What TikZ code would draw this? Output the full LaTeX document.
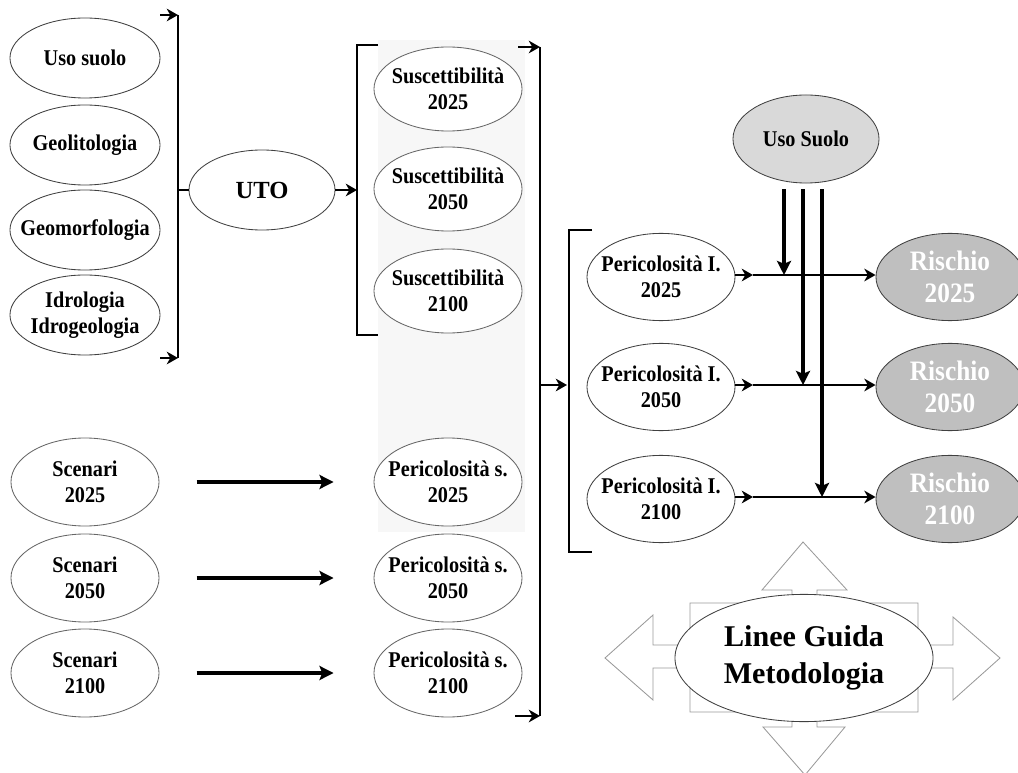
\documentclass[tikz,border=0pt]{standalone}
\usepackage{fontspec}
\setmainfont{Liberation Serif}
\newfontfamily\narrowserif[FakeStretch=0.9]{Liberation Serif}
\usetikzlibrary{shapes.geometric,arrows.meta}

\tikzset{
  oval/.style={ellipse, draw=black!75, line width=0.6pt, fill=white, minimum width=3.7cm, minimum height=2.1cm, inner ysep=0pt, inner xsep=-0.3cm, align=center, font=\narrowserif\bfseries\fontsize{16}{18.5}\selectfont},
  greyoval/.style={oval, fill=black!15},
  riskoval/.style={oval, fill=black!25, text=white, minimum height=2.18cm, font=\narrowserif\bfseries\fontsize{20}{23}\selectfont},
  link/.style={line width=1.3pt, -{Stealth[length=8pt,width=9pt,inset=2.5pt]}},
  bigarrow/.style={line width=2.6pt, -{Stealth[length=10pt,width=10pt,inset=2pt]}},
  bracket/.style={line width=1.3pt}
}

\begin{document}
\begin{tikzpicture}[x=0.025cm,y=-0.025cm]
\useasboundingbox (0,0) rectangle (1018,773);

% faint background of the middle column
\fill[black!3] (378,40) rectangle (525,532);

% input layers
\foreach \name/\y/\txt in {uso/58/Uso suolo, geo/145/Geolitologia, morfo/230/Geomorfologia, idro/315/{Idrologia\\Idrogeologia}}
  \node[oval, minimum width=3.75cm, minimum height=2cm] (\name) at (85,\y) {\txt};

\coordinate (b1top) at (178,15);
\coordinate (b1bot) at (178,358);
\coordinate (b1topin) at (160,15);
\coordinate (b1botin) at (160,358);
\draw[bracket] (b1top) -- (b1bot);
\draw[link] (b1topin) -- (b1top);
\draw[link] (b1botin) -- (b1bot);

\node[oval, minimum width=3.65cm, minimum height=2cm, font=\bfseries\fontsize{17.5}{20}\selectfont] (uto) at (262,190) {UTO};
\draw[bracket] (b1top |- uto) -- (uto);

% susceptibility
\foreach \name/\y/\yr in {su1/89/2025, su2/189/2050, su3/291/2100}
  \node[oval, draw=black!60] (\name) at (448,\y) {Suscettibilità\\\yr};

\coordinate (b2mid) at (357,190);
\draw[link] (uto) -- (b2mid);
\draw[bracket] (378,45) -- (357,45) -- (357,335) -- (378,335);

% scenarios
\foreach \name/\y/\yr in {1/482/2025, 2/578/2050, 3/673/2100} {
  \node[oval, draw=black!60, minimum height=2.2cm] (sc\name) at (85,\y) {Scenari\\\yr};
  \node[oval, draw=black!60, minimum height=2.2cm] (ps\name) at (448,\y) {Pericolosità s.\\\yr};
  \draw[bigarrow] ([xshift=0.93cm]sc\name.east) -- ([xshift=-1.0cm]ps\name.west);
}

% collector of the middle column
\coordinate (b3top) at (540,47);
\coordinate (b3bot) at (540,716);
\coordinate (b3topin) at (518,47);
\coordinate (b3botin) at (515,716);
\coordinate (b3mid) at (540,385);
\coordinate (b4mid) at (567,385);
\draw[bracket] (b3top) -- (b3bot);
\draw[link] (b3topin) -- (b3top);
\draw[link] (b3botin) -- (b3bot);
\draw[link] (b3mid) -- (b4mid);
\draw[bracket] (592,230) -- (569,230) -- (569,552) -- (592,552);

% hazard and risk
\node[greyoval, minimum width=3.65cm, minimum height=2.2cm] (us) at (806,139) {Uso Suolo};
\foreach \i/\y/\yr in {1/275/2025, 2/385/2050, 3/497/2100} {
  \node[oval, minimum height=2.18cm] (pi\i) at (661,\y+2) {Pericolosità I.\\\yr};
  \node[riskoval] (ri\i) at (950,\y+2) {Rischio\\\yr};
  \coordinate (m\i) at (753,\y);
  \draw[link] (pi\i.east |- m\i) -- (m\i);
  \draw[link] (m\i) -- (ri\i.west |- m\i);
}
\foreach \i/\dx in {1/-22, 2/-3, 3/16}
  \draw[bigarrow] ([xshift=\dx*0.025cm, yshift=-4pt]us.south) -- ([xshift=\dx*0.025cm]us.south |- m\i);

% guidelines
\draw[black!40, line width=0.6pt] (803,542) -- (847,590) -- (817,590) -- (817,603) -- (918,603)
  -- (918,645) -- (953,645) -- (953,617) -- (1000,658) -- (953,700) -- (953,668) -- (918,668)
  -- (918,712) -- (817,712) -- (817,727) -- (845,727) -- (805,775) -- (763,727) -- (792,727)
  -- (792,712) -- (690,712) -- (690,668) -- (653,668) -- (653,700) -- (605,658) -- (653,615)
  -- (653,645) -- (690,645) -- (690,603) -- (792,603) -- (792,590) -- (762,590) -- cycle;
\node[oval, minimum width=6.45cm, minimum height=3.18cm, font=\bfseries\fontsize{21.4}{26}\selectfont] (lg) at (804,658) {Linee Guida\\Metodologia};

\end{tikzpicture}
\end{document}
